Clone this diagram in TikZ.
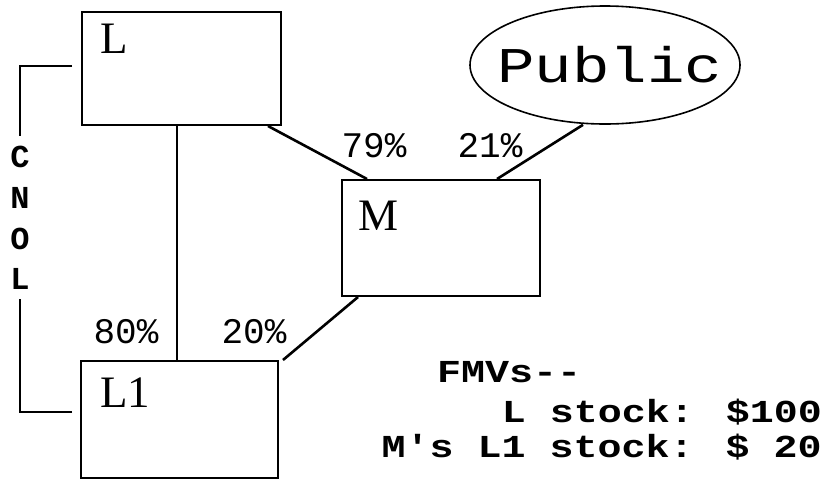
\documentclass[tikz,border=0pt]{standalone}
\usepackage{fontspec}
\setmainfont{Liberation Serif}
\newfontfamily\mono{Liberation Mono}
\newfontfamily\widemono[FakeStretch=1.25]{Liberation Mono}
\usetikzlibrary{shapes.geometric,positioning}

\begin{document}
\begin{tikzpicture}[x=1pt,y=-1pt]
\tikzstyle{every node}+=[inner sep=0pt]
\tikzstyle{box}=[draw,black,line width=2pt,rectangle]
\tikzstyle{conn}=[black,line width=2.6pt]
\tikzstyle{brk}=[black,line width=2pt]
\tikzstyle{boxlab}=[anchor=base west,font=\fontsize{45}{45}\selectfont]
\tikzstyle{pct}=[font=\mono\fontsize{36}{36}\selectfont]
\tikzstyle{cnol}=[font=\mono\bfseries\fontsize{32}{32}\selectfont]
\tikzstyle{fmv}=[font=\widemono\bfseries\fontsize{32}{32}\selectfont]
\useasboundingbox (0,0) rectangle (829,483);
% corporations
\node [box,minimum width=199pt,minimum height=113pt] (lbox) at (181.5,68.5) {};
\node [box,minimum width=197pt,minimum height=117pt] (lone) at (179.5,419.5) {};
\node [box,minimum width=198pt,minimum height=116pt] (mbox) at (441,238) {};
\node [draw,black,ellipse,line width=1.6pt,minimum width=270pt,minimum height=118pt] (pub) at (605,65) {};
\node [font=\widemono\fontsize{50}{50}\selectfont,anchor=base] (publab) at (610,82) {Public};
\node [boxlab] (llab) at (100,53) {L};
\node [boxlab] (lonelab) at (100,407) {L1};
\node [boxlab] (mlab) at (358,230) {M};
% ownership lines
\draw [conn] ([xshift=86.5pt]lbox.south) -- ([xshift=-74pt]mbox.north);
\draw [conn] ([xshift=-22pt]pub.south) -- ([xshift=56pt]mbox.north);
\draw [conn] ([xshift=-4.5pt]lbox.south) -- ([xshift=-2.5pt]lone.north);
\draw [conn] ([xshift=-83pt]mbox.south) -- ([xshift=4pt]lone.north east);
\node [pct] (plm) at (374,146) {79\%};
\node [pct] (ppm) at (490,146) {21\%};
\node [pct] (pll) at (126,332) {80\%};
\node [pct] (pml) at (254,332) {20\%};
% CNOL bracket
\node [cnol] (cc) at (20,157) {C};
\node [cnol] (cn) at (20,198) {N};
\node [cnol] (co) at (20,239) {O};
\node [cnol] (cl) at (20,279) {L};
\coordinate (bt) at (72,66);
\coordinate (bb) at (72,412);
\draw [brk] (bt) -| ([yshift=10pt]cc.north);
\draw [brk] (bb) -| ([yshift=-9pt]cl.south);
% values
\node [fmv,anchor=base west] (fmvs) at (437,382) {FMVs--};
\node [fmv,anchor=base east] (lstock) at (822,422) {L stock: \$100};
\node [fmv,anchor=base east] (mstock) at (822,457) {M's L1 stock: \$ 20};
\end{tikzpicture}
\end{document}
